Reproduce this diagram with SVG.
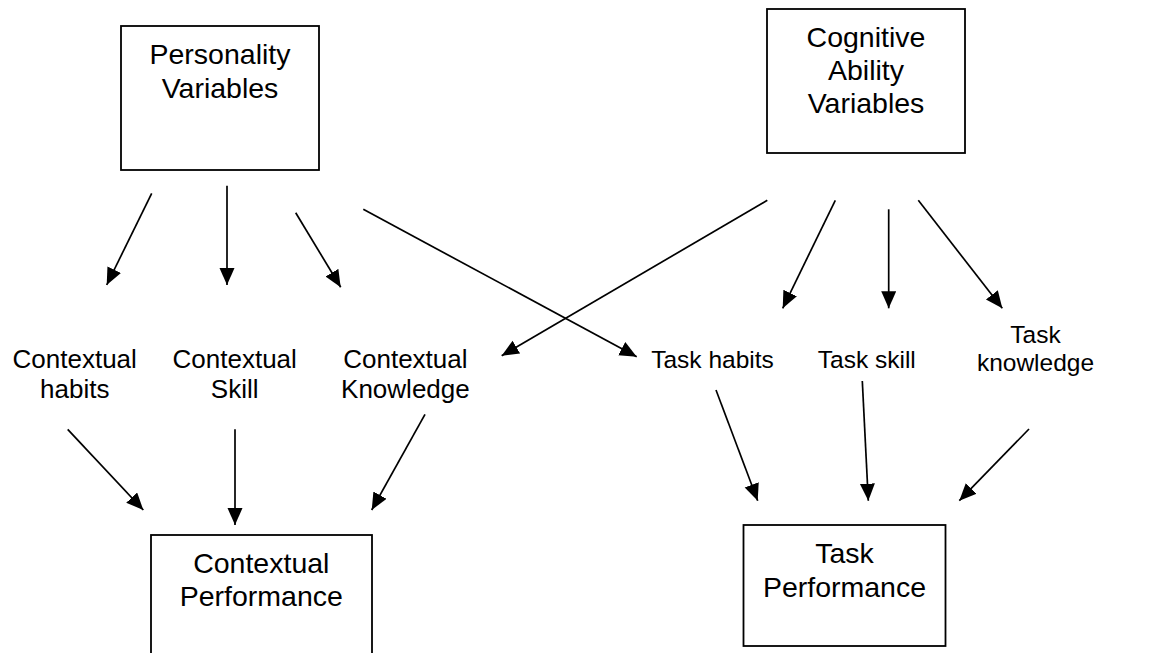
<svg xmlns="http://www.w3.org/2000/svg" width="1152" height="653" viewBox="0 0 1152 653">
<style>
.box{fill:#fff;stroke:#000;stroke-width:1.8}
.bt{font-family:"Liberation Sans",Arial,sans-serif;font-size:28.5px;fill:#000;text-anchor:middle}
.lc{font-family:"Liberation Sans",Arial,sans-serif;font-size:26px;fill:#000;text-anchor:middle}
.lt{font-family:"Liberation Sans",Arial,sans-serif;font-size:24.5px;fill:#000;text-anchor:middle}
.c line{stroke:#000;stroke-width:1.7;marker-end:url(#ah)}
</style>
<defs>
<marker id="ah" markerUnits="userSpaceOnUse" markerWidth="18" markerHeight="16" refX="17" refY="7.5" orient="auto">
<path d="M0,0 L17,7.5 L0,15 z" fill="#000"/>
</marker>
</defs>
<rect width="1152" height="653" fill="#fff"/>
<g id="personality">
<rect class="box" x="121" y="26" width="198" height="144"/>
<text class="bt" x="220" y="64">Personality</text>
<text class="bt" x="220" y="97.7">Variables</text>
</g>
<g id="cognitive">
<rect class="box" x="767" y="9" width="198" height="144"/>
<text class="bt" x="866" y="46.7">Cognitive</text>
<text class="bt" x="866" y="80">Ability</text>
<text class="bt" x="866" y="113">Variables</text>
</g>
<g id="ctx-habits">
<text class="lc" x="74.7" y="367.7">Contextual</text>
<text class="lc" x="74.7" y="397.7">habits</text>
</g>
<g id="ctx-skill">
<text class="lc" x="234.7" y="367.7">Contextual</text>
<text class="lc" x="234.7" y="397.7">Skill</text>
</g>
<g id="ctx-knowledge">
<text class="lc" x="405.4" y="367.7">Contextual</text>
<text class="lc" x="405.4" y="397.7">Knowledge</text>
</g>
<g id="task-habits">
<text class="lt" x="712.5" y="367.7">Task habits</text>
</g>
<g id="task-skill">
<text class="lt" x="866.8" y="367.7">Task skill</text>
</g>
<g id="task-knowledge">
<text class="lt" x="1035.5" y="343.3">Task</text>
<text class="lt" x="1035.5" y="370.5">knowledge</text>
</g>
<g id="ctx-performance">
<rect class="box" x="151" y="535" width="221" height="150"/>
<text class="bt" x="261.3" y="572.7">Contextual</text>
<text class="bt" x="261.3" y="606">Performance</text>
</g>
<g id="task-performance">
<rect class="box" x="743.5" y="525" width="202" height="121"/>
<text class="bt" x="844.5" y="562.7">Task</text>
<text class="bt" x="844.5" y="596.7">Performance</text>
</g>
<g id="connectors" class="c">
<line x1="151.7" y1="193.3" x2="106.7" y2="285"/>
<line x1="227" y1="185.7" x2="227" y2="285"/>
<line x1="295.7" y1="212.7" x2="340.7" y2="287.3"/>
<line x1="363.3" y1="209.3" x2="636.7" y2="356.7"/>
<line x1="767.3" y1="200.3" x2="501.7" y2="355.7"/>
<line x1="835.3" y1="200.3" x2="782.7" y2="308.3"/>
<line x1="888.7" y1="209.3" x2="888.7" y2="308.3"/>
<line x1="918.3" y1="200.3" x2="1002.3" y2="308.3"/>
<line x1="67.7" y1="429.3" x2="143.3" y2="510"/>
<line x1="235" y1="429.3" x2="235" y2="525"/>
<line x1="425" y1="414.3" x2="371.7" y2="510"/>
<line x1="716" y1="390" x2="757.7" y2="500.7"/>
<line x1="862.3" y1="381" x2="868.3" y2="500.7"/>
<line x1="1029" y1="429" x2="959.3" y2="500.7"/>
</g>
</svg>
